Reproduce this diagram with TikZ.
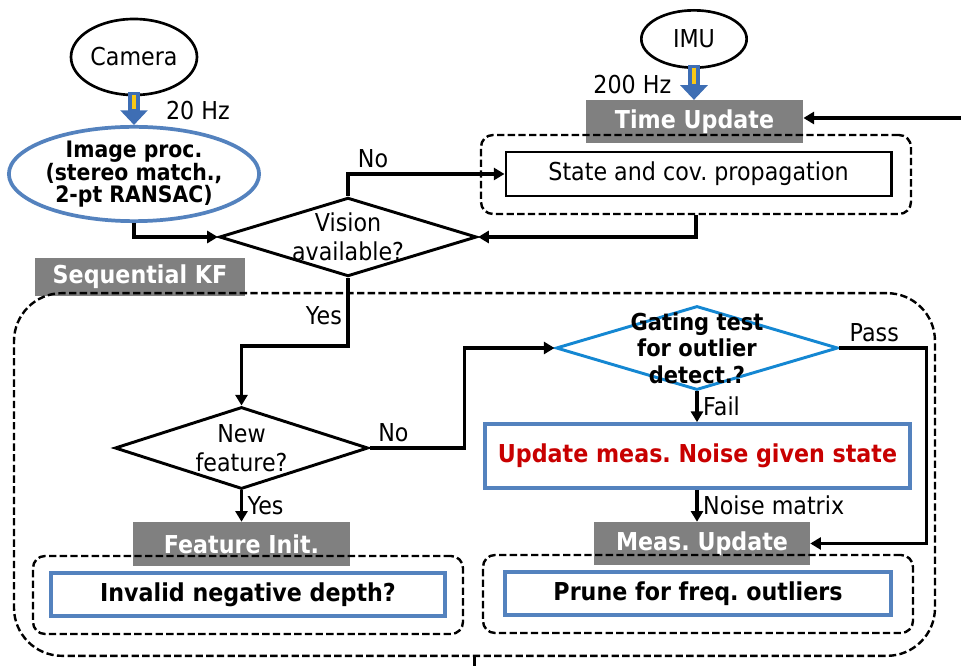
\documentclass[tikz,border=0pt]{standalone}
\usepackage{fontspec}
\setmainfont{DejaVu Sans}[FakeStretch=0.9]
\usepackage{tikz}
\usetikzlibrary{shapes.geometric, arrows.meta, positioning}
\frenchspacing
\definecolor{tagFill}{RGB}{128, 128, 128}
\definecolor{boxBlue}{RGB}{84, 130, 190}
\definecolor{rateBlue}{RGB}{62, 110, 180}
\definecolor{rateYellow}{RGB}{250, 200, 20}
\definecolor{gateBlue}{RGB}{20, 135, 210}
\definecolor{alertRed}{RGB}{200, 0, 0}
\tikzset{
    base_font/.style={
        font=\fontsize{18.5}{22}\selectfont
    },
    bold_font/.style={
        font=\bfseries\fontsize{18.5}{22}\selectfont
    },
    sensor_node/.style={
        ellipse,
        draw=black,
        line width=2pt,
        inner sep=0pt,
        base_font
    },
    proc_node/.style={
        ellipse,
        draw=boxBlue,
        line width=2.8pt,
        inner sep=0pt,
        align=center,
        font=\bfseries\fontsize{17}{16.5}\selectfont
    },
    gray_tag/.style={
        rectangle,
        fill=tagFill,
        text=white,
        inner sep=0pt,
        bold_font
    },
    group_box/.style={
        rectangle,
        draw=black,
        line width=1.8pt,
        dash pattern=on 5.5pt off 2.5pt,
        rounded corners=9pt
    },
    plain_box/.style={
        rectangle,
        draw=black,
        line width=2pt,
        inner sep=0pt,
        base_font
    },
    blue_box/.style={
        rectangle,
        draw=boxBlue,
        line width=2.8pt,
        inner sep=0pt,
        bold_font
    },
    decision/.style={
        diamond,
        draw=black,
        line width=2.2pt,
        inner sep=0pt
    },
    gate_decision/.style={
        decision,
        draw=gateBlue
    },
    flow_line/.style={
        line width=2.6pt,
        draw=black
    },
    flow_edge/.style={
        flow_line,
        -{Triangle[length=8pt, width=9pt]}
    },
    rate_arrow/.style={
        draw=rateBlue,
        line width=9.5pt,
        shorten <=-3pt,
        -{Triangle[length=11pt, width=20pt]}
    },
    rate_stripe/.style={
        draw=rateYellow,
        line width=2.4pt,
        shorten <=-1pt,
        shorten >=12pt
    }
}

\begin{document}
\begin{tikzpicture}[x=0.75pt, y=-0.75pt]
    \useasboundingbox (0,0) rectangle (961,666);

    % sensors
    \node[sensor_node, minimum width=94.5pt, minimum height=57pt] (camera) at (134,57) {Camera};
    \node[sensor_node, minimum width=79pt, minimum height=43pt] (imu) at (694,39) {IMU};

    % vision front end
    \node[proc_node, minimum width=184pt, minimum height=66pt] (imgproc) at (134,174)
        {Image proc.\\(stereo match.,\\2-pt RANSAC)};
    \node[decision, minimum width=193pt, minimum height=59pt,
        label={[base_font, align=center]center:Vision\\available?}] (vision) at (348,237) {};

    % time update
    \node[gray_tag, minimum width=163pt, minimum height=32pt] (timeupd) at (694.5,121.5) {Time Update};
    \node[group_box, minimum width=322.5pt, minimum height=59.25pt] (tu_group) at (696,174.5) {};
    \node[plain_box, minimum width=289pt, minimum height=33pt] (prop) at (698.5,174) {State and cov. propagation};

    % sequential KF
    \node[gray_tag, minimum width=157.5pt, minimum height=28.5pt] (kf_tag) at (140,277) {Sequential KF};
    \node[group_box, rounded corners=36pt, minimum width=690.75pt, minimum height=272pt] (kf_group) at (474.5,474.5) {};

    \node[decision, minimum width=190pt, minimum height=61.5pt,
        label={[base_font, align=center]center:New\\feature?}] (newfeat) at (241.5,448) {};
    \node[gate_decision, minimum width=211.5pt, minimum height=63pt,
        label={[font=\bfseries\fontsize{17.5}{20}\selectfont, align=center]center:Gating test\\for outlier\\detect.?}] (gating) at (697,348) {};
    \node[blue_box, text=alertRed, minimum width=318.75pt, minimum height=48pt] (update) at (697.5,456)
        {Update meas. Noise given state};

    % feature init
    \node[gray_tag, minimum width=163pt, minimum height=33pt] (featinit) at (241.5,544) {Feature Init.};
    \node[group_box, minimum width=322.5pt, minimum height=58.5pt] (fi_group) at (248,595) {};
    \node[blue_box, minimum width=295.5pt, minimum height=32.25pt] (invalid) at (248,594.5) {Invalid negative depth?};

    % measurement update
    \node[gray_tag, minimum width=162pt, minimum height=32.25pt] (measupd) at (702,543.5) {Meas. Update};
    \node[group_box, minimum width=322.5pt, minimum height=58.5pt] (mu_group) at (698,594) {};
    \node[blue_box, minimum width=289.5pt, minimum height=32.25pt] (prune) at (698,593.5) {Prune for freq. outliers};

    \coordinate (loop_in) at (961,118);
    \coordinate (loop_out) at (472,672);

    % sensor rates
    \draw[rate_arrow] (camera.south) -- node[right=16pt, base_font, text=black] {20 Hz} (imgproc.north);
    \draw[rate_stripe] (camera.south) -- (imgproc.north);
    \draw[rate_arrow] (imu.south) -- node[left=9pt, base_font, text=black] {200 Hz} (imu.south |- timeupd.north);
    \draw[rate_stripe] (imu.south) -- (imu.south |- timeupd.north);

    % flow
    \draw[flow_edge] (imgproc.south) |- (vision.west);
    \draw[flow_edge] (vision.north) |- node[pos=0.58, above, base_font] {No} (prop.west);
    \draw[flow_edge] (tu_group.south) |- (vision.east);
    \draw[flow_edge] (loop_in) -- (loop_in -| timeupd.east);
    \draw[flow_edge] (vision.south) -- node[left, pos=0.55, base_font] {Yes} ++(0,68) -| (newfeat.north);
    \draw[flow_edge] (newfeat.east) -- node[pos=0.25, above, base_font] {No} ++(95,0) |- (gating.west);
    \draw[flow_edge] (newfeat.south) -- node[right, base_font] {Yes} (featinit.north);
    \draw[flow_edge] (gating.south) -- node[right, base_font] {Fail} (gating.south |- update.north);
    \draw[flow_edge] (gating.east) -- node[pos=0.4, above, base_font] {Pass} ++(87,0) |- (measupd.east);
    \draw[flow_edge] (update.south -| gating.south) -- node[right, base_font] {Noise matrix} (gating.south |- measupd.north);
    \draw[flow_line] (kf_group.south) -- (kf_group.south |- loop_out);
\end{tikzpicture}
\end{document}
